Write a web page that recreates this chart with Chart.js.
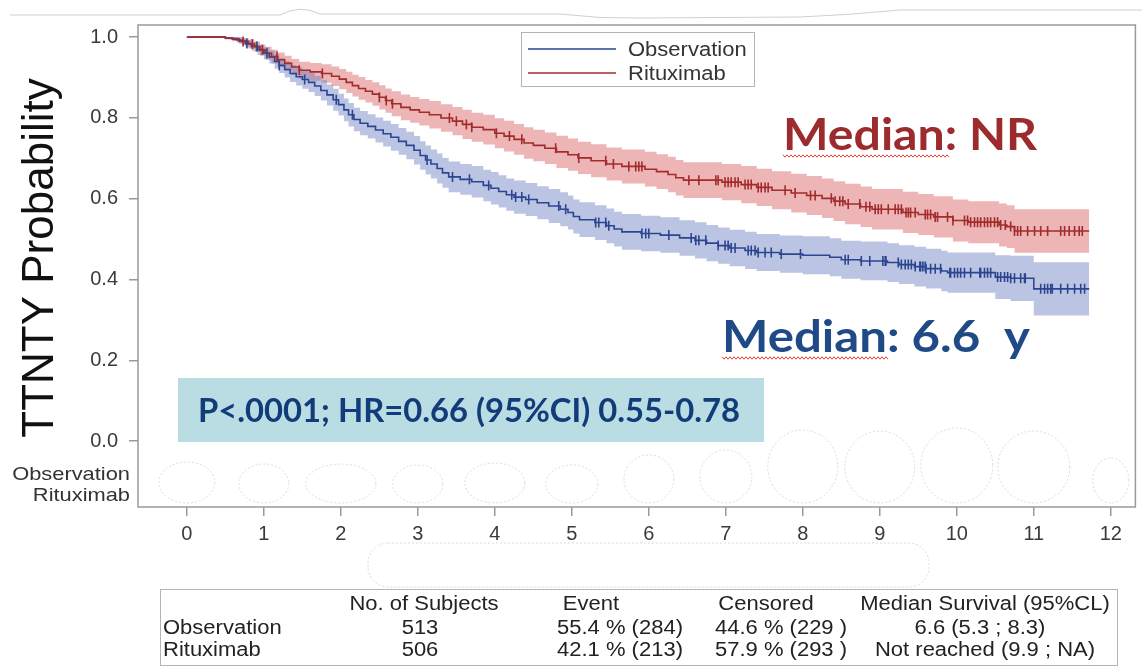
<!DOCTYPE html>
<html>
<head>
<meta charset="utf-8">
<title>TTNTY Kaplan-Meier</title>
<script src="https://cdn.jsdelivr.net/npm/chart.js@4.4.1/dist/chart.umd.min.js"></script>
<style>
  html, body { margin: 0; padding: 0; background: #ffffff; }
  canvas { display: block; }
</style>
</head>
<body>
<canvas id="km" width="1142" height="667"></canvas>
<script>
// ---- Kaplan-Meier estimates with 95% confidence limits (time in years) ----
const obsTime = [
  0, 0.5, 0.6, 0.68, 0.76, 0.84, 0.92, 1.0, 1.07, 1.14,
  1.2, 1.27, 1.34, 1.42, 1.5, 1.58, 1.66, 1.74, 1.82, 1.9,
  1.97, 2.04, 2.1, 2.17, 2.25, 2.35, 2.45, 2.55, 2.65, 2.75,
  2.85, 2.95, 3.03, 3.1, 3.17, 3.25, 3.32, 3.4, 3.55, 3.7,
  3.85, 3.95, 4.05, 4.15, 4.25, 4.4, 4.55, 4.7, 4.85, 4.95,
  5.02, 5.1, 5.3, 5.45, 5.55, 5.65, 5.9, 6.15, 6.4, 6.6,
  6.75, 6.9, 7.05, 7.25, 7.4, 7.7, 8.0, 8.35, 8.5, 8.75,
  9.1, 9.25, 9.45, 9.6, 9.8, 9.88, 10.5, 10.7, 11.0, 11.72];
const obsSurv = [
  1.0, 0.998, 0.995, 0.99, 0.984, 0.977, 0.969, 0.96, 0.951, 0.94,
  0.93, 0.92, 0.91, 0.902, 0.895, 0.888, 0.879, 0.868, 0.857, 0.845,
  0.833, 0.82, 0.808, 0.796, 0.787, 0.779, 0.77, 0.761, 0.752, 0.742,
  0.732, 0.72, 0.707, 0.696, 0.686, 0.675, 0.664, 0.654, 0.648, 0.642,
  0.633, 0.626, 0.618, 0.61, 0.604, 0.598, 0.59, 0.582, 0.574, 0.566,
  0.556, 0.548, 0.541, 0.533, 0.525, 0.518, 0.514, 0.51, 0.503, 0.497,
  0.49, 0.484, 0.478, 0.472, 0.467, 0.463, 0.46, 0.455, 0.449, 0.446,
  0.442, 0.437, 0.432, 0.427, 0.421, 0.417, 0.406, 0.403, 0.377, 0.377];
const obsLow = [
  1.0, 0.995, 0.99, 0.983, 0.975, 0.966, 0.956, 0.945, 0.935, 0.922,
  0.911, 0.9, 0.889, 0.88, 0.872, 0.864, 0.854, 0.843, 0.831, 0.818,
  0.806, 0.792, 0.779, 0.767, 0.757, 0.749, 0.739, 0.729, 0.719, 0.709,
  0.698, 0.685, 0.672, 0.66, 0.65, 0.638, 0.627, 0.616, 0.61, 0.603,
  0.594, 0.586, 0.578, 0.57, 0.563, 0.557, 0.549, 0.54, 0.532, 0.524,
  0.514, 0.505, 0.498, 0.49, 0.482, 0.474, 0.47, 0.466, 0.459, 0.452,
  0.445, 0.439, 0.433, 0.426, 0.421, 0.417, 0.413, 0.408, 0.402, 0.398,
  0.394, 0.389, 0.383, 0.378, 0.371, 0.367, 0.352, 0.347, 0.311, 0.311];
const obsHigh = [
  1.0, 1.0, 1.0, 0.997, 0.993, 0.988, 0.982, 0.975, 0.967, 0.958,
  0.949, 0.94, 0.931, 0.924, 0.918, 0.912, 0.904, 0.893, 0.883, 0.872,
  0.86, 0.848, 0.837, 0.825, 0.817, 0.809, 0.801, 0.793, 0.785, 0.775,
  0.766, 0.755, 0.742, 0.732, 0.722, 0.712, 0.701, 0.692, 0.686, 0.681,
  0.672, 0.666, 0.658, 0.65, 0.645, 0.639, 0.631, 0.624, 0.616, 0.608,
  0.598, 0.591, 0.584, 0.576, 0.568, 0.562, 0.558, 0.554, 0.547, 0.542,
  0.535, 0.529, 0.523, 0.518, 0.513, 0.509, 0.507, 0.502, 0.496, 0.494,
  0.49, 0.485, 0.481, 0.476, 0.471, 0.467, 0.46, 0.459, 0.443, 0.443];

const rtxTime = [
  0, 0.5, 0.58, 0.65, 0.72, 0.8, 0.88, 0.95, 1.02, 1.1,
  1.18, 1.27, 1.36, 1.46, 1.6, 1.75, 1.88, 1.98, 2.07, 2.15,
  2.23, 2.32, 2.41, 2.5, 2.58, 2.66, 2.78, 2.9, 3.02, 3.15,
  3.3, 3.45, 3.58, 3.7, 3.85, 4.0, 4.12, 4.25, 4.38, 4.5,
  4.65, 4.8, 4.95, 5.08, 5.25, 5.45, 5.65, 5.95, 6.1, 6.25,
  6.35, 6.45, 6.95, 7.2, 7.4, 7.6, 7.85, 8.05, 8.25, 8.4,
  8.55, 8.75, 8.9, 9.3, 9.5, 9.7, 9.95, 10.15, 10.55, 10.65,
  10.75, 11.72];
const rtxSurv = [
  1.0, 0.998, 0.996, 0.993, 0.989, 0.983, 0.976, 0.968, 0.96, 0.952,
  0.944, 0.935, 0.926, 0.918, 0.914, 0.91, 0.903, 0.896, 0.888, 0.88,
  0.873, 0.866, 0.859, 0.851, 0.843, 0.835, 0.826, 0.82, 0.814, 0.808,
  0.8, 0.792, 0.784, 0.777, 0.771, 0.762, 0.755, 0.747, 0.738, 0.732,
  0.725, 0.716, 0.709, 0.701, 0.694, 0.686, 0.68, 0.673, 0.667, 0.66,
  0.652, 0.646, 0.641, 0.635, 0.628, 0.621, 0.614, 0.608, 0.601, 0.594,
  0.587, 0.58, 0.574, 0.566, 0.561, 0.555, 0.546, 0.542, 0.535, 0.531,
  0.52, 0.52];
const rtxLow = [
  1.0, 0.995, 0.991, 0.986, 0.98, 0.972, 0.963, 0.954, 0.944, 0.935,
  0.926, 0.916, 0.906, 0.897, 0.892, 0.887, 0.879, 0.871, 0.862, 0.853,
  0.845, 0.838, 0.83, 0.821, 0.813, 0.804, 0.794, 0.788, 0.781, 0.774,
  0.766, 0.757, 0.748, 0.741, 0.734, 0.725, 0.717, 0.709, 0.699, 0.693,
  0.686, 0.676, 0.669, 0.661, 0.653, 0.645, 0.638, 0.63, 0.624, 0.616,
  0.608, 0.602, 0.596, 0.589, 0.582, 0.574, 0.566, 0.56, 0.552, 0.545,
  0.537, 0.53, 0.524, 0.515, 0.51, 0.504, 0.494, 0.49, 0.482, 0.478,
  0.466, 0.466];
const rtxHigh = [
  1.0, 1.0, 1.0, 1.0, 0.998, 0.994, 0.989, 0.982, 0.976, 0.969,
  0.962, 0.954, 0.946, 0.939, 0.936, 0.933, 0.927, 0.921, 0.914, 0.907,
  0.901, 0.894, 0.888, 0.881, 0.873, 0.866, 0.858, 0.852, 0.847, 0.842,
  0.834, 0.827, 0.82, 0.813, 0.808, 0.799, 0.793, 0.785, 0.777, 0.771,
  0.764, 0.756, 0.749, 0.741, 0.735, 0.727, 0.722, 0.716, 0.71, 0.704,
  0.696, 0.69, 0.686, 0.681, 0.674, 0.668, 0.662, 0.656, 0.65, 0.643,
  0.637, 0.63, 0.624, 0.617, 0.612, 0.606, 0.598, 0.594, 0.588, 0.584,
  0.574, 0.574];

// censoring times (years)
const obsCensor = [0.78, 0.91, 1.04, 1.2, 1.53, 1.94, 2.15, 3.12, 3.45, 3.67, 3.92, 4.22, 4.27, 4.35, 4.44, 4.83, 4.92, 5.31, 5.35, 5.44,
  5.48, 5.91, 5.96, 6.0, 6.26, 6.55, 6.61, 6.65, 6.74, 6.9, 6.99, 7.03, 7.07, 7.12, 7.29, 7.33, 7.38, 7.42, 7.51, 7.59,
  7.72, 7.97, 8.55, 8.59, 8.76, 8.87, 9.04, 9.07, 9.08, 9.24, 9.28, 9.33, 9.37, 9.41, 9.46, 9.52, 9.53, 9.56, 9.59, 9.6,
  9.66, 9.72, 9.79, 9.91, 9.92, 9.97, 10.01, 10.05, 10.1, 10.18, 10.3, 10.31, 10.36, 10.4, 10.44, 10.53, 10.57, 10.62, 10.66, 10.7,
  10.75, 10.83, 10.88, 10.89, 11.09, 11.14, 11.18, 11.22, 11.24, 11.35, 11.44, 11.53, 11.61, 11.66];
const rtxCensor = [0.73, 0.85, 0.98, 1.17, 1.46, 1.76, 2.5, 2.59, 2.67, 3.41, 3.5, 3.63, 3.7, 4.02, 4.19, 4.35, 4.79, 5.09, 5.44, 5.54,
  5.74, 5.83, 5.87, 5.91, 6.52, 6.65, 6.87, 6.9, 6.99, 7.03, 7.07, 7.12, 7.16, 7.25, 7.29, 7.33, 7.42, 7.46, 7.51, 7.55,
  7.77, 7.9, 8.1, 8.16, 8.37, 8.42, 8.48, 8.52, 8.59, 8.74, 8.82, 8.87, 8.94, 8.98, 9.02, 9.11, 9.2, 9.24, 9.28, 9.34,
  9.37, 9.4, 9.46, 9.59, 9.62, 9.66, 9.72, 9.75, 9.88, 9.95, 10.1, 10.14, 10.18, 10.23, 10.27, 10.31, 10.36, 10.4, 10.44, 10.49,
  10.53, 10.57, 10.63, 10.7, 10.75, 10.79, 10.83, 10.92, 11.01, 11.09, 11.18, 11.35, 11.4, 11.46, 11.53, 11.59, 11.63];

const xTicks = [0, 1, 2, 3, 4, 5, 6, 7, 8, 9, 10, 11, 12];
const yTicks = [0, 0.2, 0.4, 0.6, 0.8, 1.0];
const seriesNames = ['Observation', 'Rituximab'];
const yTitle = 'TTNTY Probability';

const medianRtxLabel = 'Median: NR';
const medianObsLabel = 'Median: 6.6  y';
const statsLabel = 'P<.0001; HR=0.66 (95%CI) 0.55-0.78';

const tableHeader = ['', 'No. of Subjects', 'Event', 'Censored', 'Median Survival (95%CL)'];
const tableObs = ['Observation', '513', '55.4 % (284)', '44.6 % (229 )', '6.6 (5.3 ; 8.3)'];
const tableRtx = ['Rituximab', '506', '42.1 % (213)', '57.9 % (293 )', 'Not reached (9.9 ; NA)'];

// ---- colours ----
const BLUE = '#2c4591';
const RED = '#a32b2b';
const BLUE_BAND = 'rgba(104,124,190,0.45)';
const RED_BAND = 'rgba(214,92,92,0.45)';
const AXIS_GREY = '#9a9a9a';
const SAS_FONT = '"Liberation Sans", Arial, sans-serif';
const NOTE_FONT = 'Lato, "Open Sans", sans-serif';

// value of a right-continuous step function at time t
function stepValue(times, vals, t) {
  let v = vals[0];
  for (let i = 0; i < times.length; i++) {
    if (times[i] <= t) v = vals[i]; else break;
  }
  return v;
}
function pts(times, vals) { return times.map((t, i) => ({ x: t, y: vals[i] })); }
function censorPts(cens, times, vals) { return cens.map(t => ({ x: t, y: stepValue(times, vals, t) })); }

function bandUpper(label, times, vals, color, order) {
  return { label, data: pts(times, vals), stepped: 'before', borderWidth: 0, borderColor: 'transparent',
    pointRadius: 0, fill: '+1', backgroundColor: color, order };
}
function bandLower(label, times, vals, order) {
  return { label, data: pts(times, vals), stepped: 'before', borderWidth: 0, borderColor: 'transparent',
    pointRadius: 0, fill: false, order };
}
function kmLine(label, times, vals, color, order) {
  return { label, data: pts(times, vals), stepped: 'before', borderColor: color, borderWidth: 1.6,
    pointRadius: 0, fill: false, order };
}
function censorSet(label, cens, times, vals, color, order) {
  return { label, data: censorPts(cens, times, vals), showLine: false, pointStyle: 'line', pointRotation: 90,
    pointRadius: 5, pointBorderWidth: 1.6, pointBorderColor: color, borderColor: color, order };
}

// text helpers
function stretchText(ctx, text, x, y, sx, align) {
  ctx.save();
  ctx.translate(x, y);
  ctx.scale(sx, 1);
  ctx.textAlign = align || 'left';
  ctx.fillText(text, 0, 0);
  ctx.restore();
}
function fitText(ctx, text, x, y, width) {
  const w = ctx.measureText(text).width;
  stretchText(ctx, text, x, y, width / w, 'left');
}
function squiggle(ctx, x0, x1, y) {
  ctx.save();
  ctx.beginPath();
  let k = 0;
  for (let x = x0; x <= x1; x += 2, k++) {
    const yy = y + (k % 2 ? 1.2 : -1.2);
    if (k === 0) ctx.moveTo(x, yy); else ctx.lineTo(x, yy);
  }
  ctx.strokeStyle = '#e2403a';
  ctx.lineWidth = 1;
  ctx.stroke();
  ctx.restore();
}

// blanked at-risk cells (one per tick): half width and top edge in px
const riskCellRx = [28, 25, 35, 25, 30, 26, 25, 26, 35, 35, 36, 36, 18];
const riskCellTop = [462, 464, 464, 465, 463, 465, 455, 450, 430, 431, 428, 431, 458];

const decorations = {
  id: 'decorations',
  afterDraw(chart) {
    const { ctx, chartArea: a, scales } = chart;
    const xs = scales.x;
    ctx.save();

    // faint paper edges
    ctx.strokeStyle = '#cfcfcf';
    ctx.lineWidth = 1;
    ctx.beginPath();
    ctx.moveTo(10, 15); ctx.lineTo(280, 15); ctx.quadraticCurveTo(300, 4, 320, 14);
    ctx.lineTo(560, 14); ctx.quadraticCurveTo(600, 19, 640, 18); ctx.lineTo(800, 17);
    ctx.quadraticCurveTo(850, 15, 900, 10); ctx.lineTo(1142, 10);
    ctx.stroke();

    // plot frame
    ctx.strokeStyle = AXIS_GREY;
    ctx.lineWidth = 1.5;
    ctx.strokeRect(a.left, a.top, a.right - a.left, a.bottom - a.top);

    // blanked at-risk cells
    ctx.setLineDash([2, 2]);
    ctx.strokeStyle = '#d2d2d2';
    ctx.lineWidth = 0.8;
    xTicks.forEach((t, i) => {
      const cx = xs.getPixelForValue(t);
      const top = riskCellTop[i], bottom = 503;
      ctx.beginPath();
      ctx.ellipse(cx, (top + bottom) / 2, riskCellRx[i], (bottom - top) / 2, 0, 0, Math.PI * 2);
      ctx.fillStyle = '#ffffff';
      ctx.fill();
      ctx.stroke();
    });
    // blank below axis
    ctx.beginPath();
    ctx.roundRect(368, 543, 561, 44, 20);
    ctx.stroke();
    ctx.setLineDash([]);

    // at-risk row labels
    ctx.fillStyle = '#333333';
    ctx.font = '19px ' + SAS_FONT;
    ctx.textBaseline = 'middle';
    stretchText(ctx, seriesNames[0], 130, 475, 1.15, 'right');
    stretchText(ctx, seriesNames[1], 130, 496, 1.15, 'right');

    // y-axis title
    ctx.save();
    ctx.fillStyle = '#111111';
    ctx.font = '44px ' + SAS_FONT;
    ctx.textBaseline = 'alphabetic';
    ctx.textAlign = 'center';
    ctx.translate(53, 258);
    ctx.rotate(-Math.PI / 2);
    ctx.fillText(yTitle, 0, 0);
    ctx.restore();

    // legend
    ctx.strokeStyle = '#b4b4b4';
    ctx.lineWidth = 1;
    ctx.strokeRect(521.5, 32.5, 233, 54);
    const legendColors = [BLUE, RED];
    ctx.font = '20px ' + SAS_FONT;
    ctx.textBaseline = 'alphabetic';
    [49, 73].forEach((ly, i) => {
      ctx.strokeStyle = legendColors[i];
      ctx.lineWidth = 1.6;
      ctx.beginPath(); ctx.moveTo(528, ly); ctx.lineTo(616, ly); ctx.stroke();
      ctx.fillStyle = '#333333';
      stretchText(ctx, seriesNames[i], 628, ly + 6.5, 1.1, 'left');
    });

    // statistics box
    ctx.fillStyle = '#b9dde3';
    ctx.fillRect(178, 378, 586, 64);
    ctx.fillStyle = '#123b7a';
    ctx.font = 'bold 32px ' + NOTE_FONT;
    ctx.textBaseline = 'alphabetic';
    fitText(ctx, statsLabel, 198, 422, 542);

    // median notes
    ctx.font = 'bold 44px ' + NOTE_FONT;
    ctx.fillStyle = '#9b2b2d';
    fitText(ctx, medianRtxLabel, 783, 150, 254);
    squiggle(ctx, 783, 950, 156);
    ctx.fillStyle = '#1f4a87';
    fitText(ctx, medianObsLabel, 722, 352, 308);
    squiggle(ctx, 722, 888, 358);

    // summary table
    ctx.strokeStyle = '#b4b4b4';
    ctx.lineWidth = 1;
    ctx.strokeRect(160.5, 589.5, 957, 76);
    ctx.fillStyle = '#222222';
    ctx.font = '20px ' + SAS_FONT;
    ctx.textBaseline = 'middle';
    const headCx = [null, 424, 591, 766, 985];
    const rowCx = [[null, 420, 620, 781, 980], [null, 420, 620, 781, 985]];
    tableHeader.forEach((s, j) => { if (j > 0) stretchText(ctx, s, headCx[j], 604, 1.1, 'center'); });
    [tableObs, tableRtx].forEach((row, r) => {
      const y = r === 0 ? 628 : 650;
      row.forEach((s, j) => {
        if (j === 0) stretchText(ctx, s, 163, y, 1.1, 'left');
        else stretchText(ctx, s, rowCx[r][j], y, 1.1, 'center');
      });
    });

    ctx.restore();
  }
};

new Chart(document.getElementById('km'), {
  type: 'line',
  data: {
    datasets: [
      bandUpper('Rituximab upper 95% CL', rtxTime, rtxHigh, RED_BAND, 12),
      bandLower('Rituximab lower 95% CL', rtxTime, rtxLow, 12),
      bandUpper('Observation upper 95% CL', obsTime, obsHigh, BLUE_BAND, 10),
      bandLower('Observation lower 95% CL', obsTime, obsLow, 10),
      kmLine(seriesNames[0], obsTime, obsSurv, BLUE, 4),
      kmLine(seriesNames[1], rtxTime, rtxSurv, RED, 3),
      censorSet('Observation censored', obsCensor, obsTime, obsSurv, BLUE, 2),
      censorSet('Rituximab censored', rtxCensor, rtxTime, rtxSurv, RED, 1)
    ]
  },
  options: {
    responsive: false,
    animation: false,
    events: [],
    layout: { padding: { top: 25, right: 4, left: 0, bottom: 0 } },
    plugins: { legend: { display: false }, tooltip: { enabled: false } },
    scales: {
      x: {
        type: 'linear',
        min: -0.635,
        max: 12.32,
        afterBuildTicks: s => { s.ticks = xTicks.map(v => ({ value: v })); },
        afterFit: s => { s.height = 160; },
        grid: { display: true, drawOnChartArea: false, drawTicks: true, tickLength: 9, color: AXIS_GREY, lineWidth: 1.5 },
        border: { display: false },
        ticks: { color: '#3a3a3a', font: { family: SAS_FONT, size: 20 }, padding: 6, maxRotation: 0, autoSkip: false,
          callback: v => String(v) }
      },
      y: {
        type: 'linear',
        min: -0.163,
        max: 1.03,
        afterBuildTicks: s => { s.ticks = yTicks.map(v => ({ value: v })); },
        afterFit: s => { s.width = 138; },
        grid: { display: true, drawOnChartArea: false, drawTicks: true, tickLength: 9, color: AXIS_GREY, lineWidth: 1.5 },
        border: { display: false },
        ticks: { color: '#3a3a3a', font: { family: SAS_FONT, size: 20 }, padding: 11,
          callback: v => Number(v).toFixed(1) }
      }
    }
  },
  plugins: [decorations]
});
</script>
</body>
</html>
